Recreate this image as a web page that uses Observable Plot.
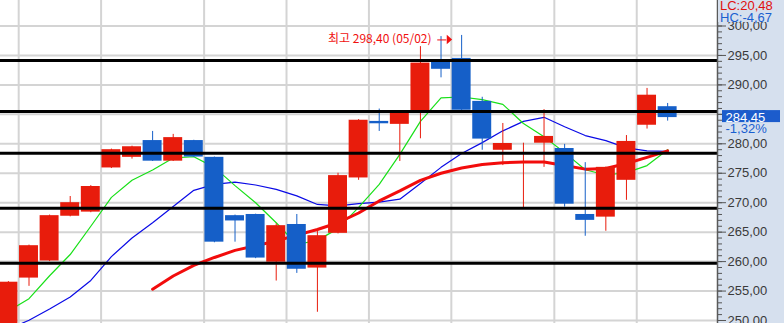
<!DOCTYPE html>
<html>
<head>
<meta charset="utf-8">
<script src="https://cdn.jsdelivr.net/npm/d3@7"></script>
<script src="https://cdn.jsdelivr.net/npm/@observablehq/plot@0.6"></script>
<style>
html, body { margin: 0; padding: 0; background: #fff; }
#wrap { position: relative; width: 784px; height: 323px; overflow: hidden; }
#info { position: absolute; left: 718px; top: 0; width: 66px; height: 22px; background: #d6e0ee;
        font: 13px "Liberation Sans", Arial, sans-serif; line-height: 12px; white-space: pre; }
</style>
</head>
<body>
<div id="wrap"><div id="chart"></div><div id="info"></div></div>
<script>
// ---- data (daily candles, index 0..32) ----
const opens  = [248.0, 257.2, 260.1, 267.7, 268.4, 275.9, 277.7, 280.55, 277.05, 280.55,
                277.7, 267.8, 268.0, 259.9, 266.3, 258.9, 264.8, 274.2, 283.8, 283.3,
                285.5, 294.0, 294.5, 287.2, 278.9, 275.0, 280.1, 279.2, 268.0, 267.55,
                273.8, 283.15, 286.3];
const highs  = [256.6, 262.8, 267.9, 271.05, 272.9, 279.1, 279.6, 282.1, 281.6, 280.6,
                277.75, 267.9, 268.05, 266.4, 268.0, 265.6, 275.0, 284.1, 285.9, 285.5,
                296.5, 298.2, 298.4, 287.9, 283.45, 280.1, 285.8, 279.9, 276.8, 276.05,
                281.4, 289.4, 286.85];
const lows   = [247.0, 255.8, 260.0, 267.6, 268.3, 275.8, 277.4, 277.0, 277.0, 277.7,
                263.2, 263.3, 260.5, 256.7, 258.0, 251.4, 264.7, 273.8, 282.1, 277.0,
                280.85, 291.2, 285.25, 278.9, 276.3, 269.1, 276.0, 269.25, 264.3, 265.15,
                270.4, 282.5, 283.85];
const closes = [256.5, 262.7, 267.8, 270.0, 272.75, 279.0, 279.5, 277.05, 281.05, 277.75,
                263.3, 266.9, 260.6, 266.1, 258.7, 264.4, 274.6, 284.0, 283.4, 285.4,
                293.7, 292.65, 285.7, 280.8, 280.05, 275.0, 281.25, 269.75, 267.0, 276.0,
                280.4, 288.25, 284.45];
const ma5    = [251.6, 253.7, 257.6, 261.2, 266.0, 270.9, 273.8, 275.55, 277.6, 277.8,
                276.0, 272.9, 270.0, 266.6, 262.9, 263.6, 265.6, 269.2, 273.1, 278.2,
                283.8, 287.8, 287.95, 287.5, 286.7, 283.45, 281.2, 278.5, 275.6, 274.7,
                275.1, 276.3, 279.0];
const ma20   = [248.5, 250.05, 251.95, 254.0, 256.8, 260.85, 264.0, 266.6, 269.35, 272.1,
                273.1, 273.5, 273.0, 272.25, 271.15, 269.7, 269.45, 269.85, 270.1, 270.6,
                273.25, 276.0, 278.35, 280.2, 282.2, 283.8, 284.5, 282.9, 281.4, 280.55,
                279.3, 278.8, 278.7];
const ma60   = [null, null, null, null, null, null, null, 255.3, 257.55, 259.35,
                260.7, 261.9, 262.7, 263.5, 264.5, 265.45, 266.6, 268.25, 270.3, 272.0,
                273.8, 275.0, 275.9, 276.5, 276.8, 276.9, 276.9, 276.3, 275.7, 275.8,
                276.65, 277.7, 278.8];
const weekStartIdx = [1, 5, 10, 14, 18, 22, 27, 31];
const levels = [294.14, 285.48, 278.41, 269.07, 259.73];
const yTicks = [250, 255, 260, 265, 270, 275, 280, 285, 290, 295, 300];
const yMinorTicks = d3.range(250, 305, 1);
const highDate = "05/02";
const highLabel = "최고";
const lcValue = 20.48;
const hcValue = -4.67;

// ---- layout ----
const W = 784, H = 323, MR = 67;
const xDomain = [-0.3835, 34.42];
const yDomain = [249.49, 304.33];
const pxX = (W - MR) / (xDomain[1] - xDomain[0]);
const pxY = H / (yDomain[1] - yDomain[0]);
const RED = "#e81c0c", BLUE = "#155fc8";
const fmt = v => v.toFixed(2).replace(".", ",");
const axisFont = '"Liberation Sans Narrow", "Liberation Sans", Arial, sans-serif';

const candles = closes.map((c, i) => ({i, open: opens[i], high: highs[i], low: lows[i], close: c}));
const up = candles.filter(d => d.close >= d.open);
const down = candles.filter(d => d.close < d.open);
const idx = d3.range(closes.length);

const maxI = d3.maxIndex(highs);
const maxV = highs[maxI];
const last = closes.length - 1;
const lastClose = closes[last];
const pct = (lastClose - closes[last - 1]) / closes[last - 1] * 100;
const pctText = (pct > 0 ? "+" : "") + pct.toFixed(2).replace(".", ",") + "%";

// custom right-pointing triangle whose tip is at the anchor point
const rightTri = {
  draw(ctx, size) {
    const r = Math.sqrt(size / Math.PI);
    ctx.moveTo(0, 0);
    ctx.lineTo(-1.2 * r, -1.05 * r);
    ctx.lineTo(-1.2 * r, 1.05 * r);
    ctx.closePath();
  }
};

const chart = Plot.plot({
  width: W, height: H,
  marginLeft: 0, marginRight: MR, marginTop: 0, marginBottom: 0,
  style: {background: "linear-gradient(to right, #ffffff 717px, #d6e0ee 717px)", overflow: "hidden"},
  x: {type: "linear", domain: xDomain, axis: null},
  y: {type: "linear", domain: yDomain, axis: null},
  marks: [
    // grid
    Plot.ruleY(yTicks, {stroke: "#d4d4d4", strokeWidth: 2}),
    Plot.ruleX(weekStartIdx, {x: d => d - 0.5, stroke: "#d4d4d4", strokeWidth: 2}),
    // moving averages
    Plot.line(idx, {x: d => d, y: d => ma20[d], stroke: "#0a0ae6", strokeWidth: 1.2}),
    Plot.line(idx, {x: d => d, y: d => ma5[d], stroke: "#18e018", strokeWidth: 1.2}),
    Plot.line(idx, {x: d => d, y: d => ma60[d], stroke: "#f20c0c", strokeWidth: 3}),
    // candles
    Plot.ruleX(up, {x: "i", y1: "low", y2: "high", stroke: RED, strokeWidth: 1}),
    Plot.ruleX(down, {x: "i", y1: "low", y2: "high", stroke: BLUE, strokeWidth: 1}),
    Plot.rect(up, {x1: d => d.i - 0.46, x2: d => d.i + 0.46, y1: "open", y2: "close", fill: RED}),
    Plot.rect(down, {x1: d => d.i - 0.46, x2: d => d.i + 0.46, y1: "open", y2: "close", fill: BLUE}),
    // horizontal level lines
    Plot.ruleY(levels, {stroke: "#000", strokeWidth: 3}),
    // high annotation
    Plot.text([maxV], {x: () => maxI - 1.46, y: d => d, dy: 3.5, text: d => `${highLabel} ${fmt(d)} (${highDate})`,
      textAnchor: "end", fill: "#f01010", fontSize: 12, fontFamily: '"Noto Sans CJK KR", sans-serif'}),
    Plot.ruleY([maxV], {x1: () => maxI - 1.16, x2: () => maxI - 0.72, y: d => d, dy: 4.5, stroke: "#f01010", strokeWidth: 1}),
    Plot.dot([maxV], {x: () => maxI - 0.46, y: d => d, dy: 4, symbol: rightTri, r: 4.5, fill: "#f01010", stroke: "none"}),
    // axis line
    Plot.ruleX([xDomain[1]], {stroke: "#5a5a5a", strokeWidth: 1.5}),
    // right axis
    Plot.axisY({anchor: "right", ticks: yMinorTicks, tickSize: 4, tickFormat: () => "", label: null, stroke: "#555"}),
    Plot.axisY({anchor: "right", ticks: yTicks, tickSize: 8, tickPadding: 2, tickFormat: fmt, label: null,
      stroke: "#555", fill: "#3a3a3a", fontSize: 13, fontFamily: axisFont}),
    // current price box
    Plot.rect([lastClose], {x1: () => xDomain[1] + 5 / pxX, x2: () => xDomain[1] + 63 / pxX,
      y1: d => d + 7 / pxY, y2: d => d - 5 / pxY, fill: "#1c5ccc"}),
    Plot.text([lastClose], {x: () => xDomain[1], y: d => d, dx: 8, dy: 0, text: d => fmt(d), textAnchor: "start",
      fill: "#ffffff", fontSize: 13, fontFamily: '"Liberation Sans", Arial, sans-serif'}),
    Plot.text([lastClose], {x: () => xDomain[1], y: d => d, dx: 8, dy: 11, text: () => pctText, textAnchor: "start",
      fill: "#1a5fd0", fontSize: 13, fontFamily: '"Liberation Sans", Arial, sans-serif'})
  ]
});
document.getElementById("chart").appendChild(chart);

const info = document.getElementById("info");
info.innerHTML = `<div style="color:#e01010;padding-left:2px">LC:${fmt(lcValue)}</div><div style="color:#1a5fd0;padding-left:2px">HC:${fmt(hcValue)}</div>`;
</script>
</body>
</html>
